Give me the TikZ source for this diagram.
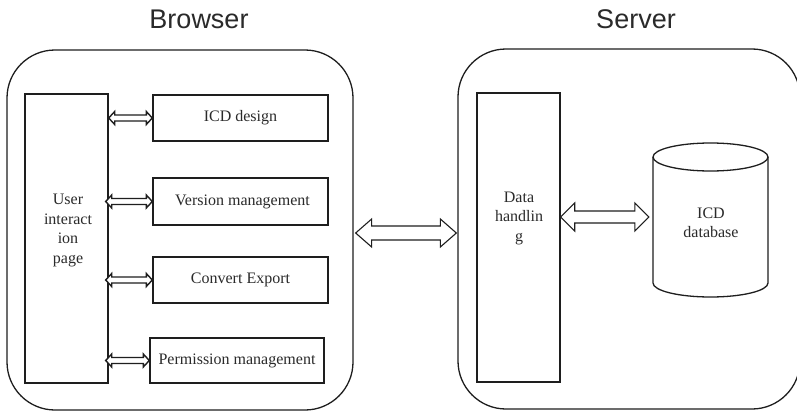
\documentclass[tikz,border=0pt]{standalone}
\usepackage{fontspec}
\setmainfont{Liberation Serif}
\newfontfamily\titlefont{Liberation Sans}
\usetikzlibrary{calc}

\definecolor{ink}{HTML}{1E1E1E}
\definecolor{txt}{HTML}{2A2A2A}

% Hollow two-headed block arrow along a horizontal line.
% #1 start, #2 end, #3 half shaft width, #4 half head width, #5 head length
\newcommand\hollowdbl[5]{%
  \draw[arrowline] let \p1=(#1), \p2=(#2) in
    (\x1,\y1) -- (\x1+#5,\y1+#4) -- (\x1+#5,\y1+#3) -- (\x2-#5,\y1+#3)
    -- (\x2-#5,\y1+#4) -- (\x2,\y1) -- (\x2-#5,\y1-#4) -- (\x2-#5,\y1-#3)
    -- (\x1+#5,\y1-#3) -- (\x1+#5,\y1-#4) -- cycle;}

\tikzset{
  outer/.style={draw=ink, line width=1.3pt, rounded corners=48pt, inner sep=0pt},
  block/.style={draw=ink, line width=1.4pt, inner sep=0pt},
  lbl/.style={text=txt, font=\fontsize{16}{19.5}\selectfont, align=center, inner sep=0pt},
  title/.style={text=txt, font=\titlefont\fontsize{27}{31}\selectfont, inner sep=0pt},
  arrowline/.style={draw=ink, line width=1.1pt, fill=white, line join=miter},
  smallarrow/.style={line width=1.4pt},
}

\begin{document}
\begin{tikzpicture}[x=1pt, y=-1pt]
\useasboundingbox (0,0) rectangle (797,412);
\clip (0,0) rectangle (797,412);
\fill[white] (0,0) rectangle (797,412);

% group titles
\node[title, anchor=base] (tb) at (199,29) {Browser};
\node[title, anchor=base] (ts) at (636,29) {Server};

% outer containers
\node[outer, minimum width=346pt, minimum height=360pt] (browser) at (180,230) {};
\node[outer, minimum width=342pt, minimum height=360pt] (server) at (629,229) {};

% browser side
\node[block, minimum width=83pt, minimum height=289pt] (uip) at (66.5,238.5) {};
\node[lbl] (uiptext) at (68,230.5) {User\\interact\\ion\\page};

\node[block, minimum width=175pt, minimum height=46pt, lbl] (icd) at (240.5,118) {ICD design};
\node[block, minimum width=175pt, minimum height=47pt, lbl] (ver) at (240.5,201.5) {\hspace{4pt}Version management};
\node[block, minimum width=175pt, minimum height=46pt, lbl] (conv) at (240.5,280) {Convert Export};
\node[block, minimum width=174pt, minimum height=45pt, lbl] (perm) at (237,360.5) {Permission management};

% server side
\node[block, minimum width=83pt, minimum height=289pt] (dh) at (518.5,237.5) {};
\node[lbl] (dhtext) at (519,218) {Data\\handlin\\g};

\node[minimum width=115pt, minimum height=154pt, inner sep=0pt] (db) at (710.5,220) {};
\draw[ink, line width=1.3pt]
  (653,157) -- (653,283) arc[start angle=180, end angle=360, x radius=57.5pt, y radius=14pt] -- (768,157);
\draw[ink, line width=1.3pt] (710.5,157) ellipse [x radius=57.5pt, y radius=14pt];
\node[lbl] (dbtext) at (711,223) {ICD\\database};

% connectors
\begin{scope}[arrowline/.append style={smallarrow}]
\hollowdbl{uip.east |- icd.west}{icd.west}{3pt}{6.5pt}{6pt}
\hollowdbl{[xshift=-3pt]uip.east |- ver.west}{ver.west}{3pt}{6.5pt}{6pt}
\hollowdbl{[xshift=-3pt]uip.east |- conv.west}{conv.west}{3pt}{6.5pt}{6pt}
\hollowdbl{[xshift=-3pt]uip.east |- perm.west}{perm.west}{3pt}{6.5pt}{6pt}
\end{scope}

\hollowdbl{[xshift=2pt,yshift=-3pt]browser.east}{[xshift=-1pt,yshift=-3pt]server.west}{7pt}{14pt}{16pt}
\hollowdbl{[yshift=20.5pt]dh.east}{[xshift=-4pt,yshift=20.5pt]db.west}{6pt}{14pt}{14pt}
\end{tikzpicture}
\end{document}
